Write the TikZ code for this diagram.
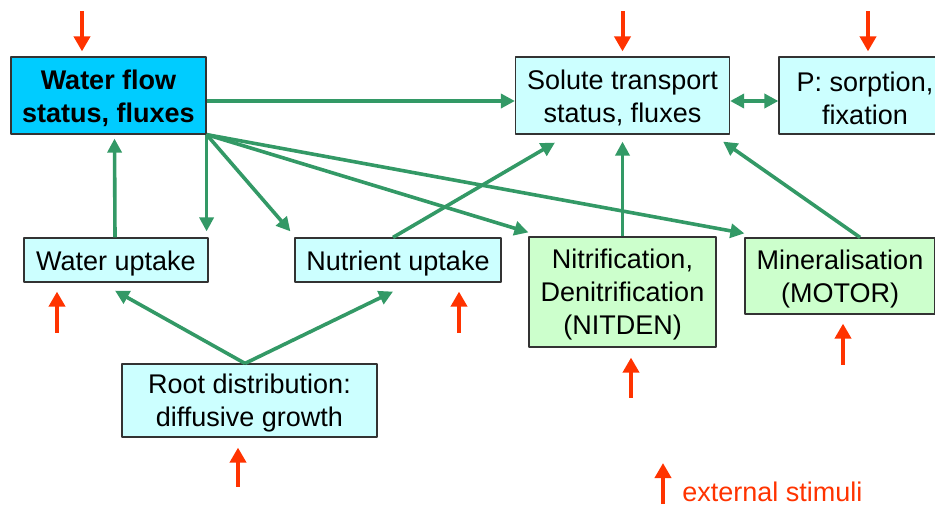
\documentclass[tikz,border=0pt]{standalone}
\usepackage{fontspec}
\setmainfont{Liberation Sans}
\usetikzlibrary{arrows.meta}
\definecolor{flowblue}{HTML}{00CCFF}
\definecolor{paleblue}{HTML}{CCFFFF}
\definecolor{palegreen}{HTML}{CCFFCC}
\definecolor{linkgreen}{HTML}{339966}
\definecolor{stimred}{HTML}{FF3300}
\newcommand{\topgap}{\rule{0pt}{12.5pt}}
\begin{document}
\begin{tikzpicture}[x=0.5pt,y=-0.5pt, line join=round]
	\tikzset{box/.style={draw=black!80, line width=0.6pt, inner sep=0pt, align=center, font=\fontsize{13.5}{16.5}\selectfont},
		link/.style={-{Triangle[length=7pt,width=7pt]}, draw=linkgreen, line width=1.8pt},
		stim/.style={-{Triangle[length=7.5pt,width=8pt]}, draw=stimred, line width=2pt}}
	\useasboundingbox (0,0) rectangle (935,504);
	% boxes
	\node[box, fill=flowblue, minimum width=97.5pt, minimum height=38.5pt, font=\fontsize{13.5}{16.5}\selectfont\bfseries] (wflow) at (108.5,95.5) {\topgap Water flow\\status, fluxes};
	\node[box, fill=paleblue, minimum width=107pt, minimum height=38.5pt] (solute) at (622.5,95.5) {\topgap Solute transport\\status, fluxes};
	\node[box, fill=paleblue, minimum width=86pt, minimum height=38.5pt] (psorp) at (865,95.5) {\topgap P: sorption,\\fixation};
	\node[box, fill=paleblue, minimum width=92pt, minimum height=22pt] (wup) at (116,260) {\rule{0pt}{13.5pt}Water uptake};
	\node[box, fill=paleblue, minimum width=103pt, minimum height=22pt] (nup) at (398,260) {\rule{0pt}{13.5pt}Nutrient uptake};
	\node[box, fill=palegreen, minimum width=93.5pt, minimum height=55pt] (nitden) at (622.5,292) {\topgap Nitrification,\\Denitrification\\(NITDEN)};
	\node[box, fill=palegreen, minimum width=95pt, minimum height=38pt] (miner) at (840,276) {\topgap Mineralisation\\(MOTOR)};
	\node[box, fill=paleblue, minimum width=127.5pt, minimum height=36.5pt] (root) at (249.5,400.5) {\topgap Root distribution:\\diffusive growth};
	% flows
	\draw[link] ([yshift=-2.75pt]wflow.east) -- ([yshift=-2.75pt]solute.west);
	\draw[link, {Triangle[length=7pt,width=7pt]}-{Triangle[length=7pt,width=7pt]}] ([yshift=-2.75pt]solute.east) -- ([yshift=-2.75pt]psorp.west);
	\draw[link] (wflow.south east) -- ([yshift=3pt]wflow.south east |- wup.north);
	\draw[link] (wflow.south east) -- ([xshift=-2pt,yshift=3pt]nup.north west);
	\draw[link] (wflow.south east) -- ([yshift=2pt]nitden.north west);
	\draw[link] (wflow.south east) -- ([yshift=2pt]miner.north west);
	\draw[link] ([xshift=-0.5pt]wup.north) -- ([xshift=3pt,yshift=-2pt]wflow.south);
	\draw[link] ([xshift=-2.5pt]nup.north) -- ([xshift=-33.75pt,yshift=-4pt]solute.south);
	\draw[link] (nitden.north) -- ([yshift=-3.5pt]solute.south);
	\draw[link] ([xshift=10pt]miner.north) -- ([xshift=-3.5pt,yshift=-3.5pt]solute.south east);
	\draw[link] ([xshift=-2.25pt]root.north) -- ([xshift=-0.5pt,yshift=-4pt]wup.south);
	\draw[link] ([xshift=-2.25pt]root.north) -- ([xshift=-2.5pt,yshift=-4.5pt]nup.south);
	% external stimuli
	\draw[stim] ([xshift=-13.25pt,yshift=22.5pt]wflow.north) -- ++(0pt,-20pt);
	\draw[stim] ([yshift=22.5pt]solute.north) -- ++(0pt,-20pt);
	\draw[stim] ([xshift=1.5pt,yshift=22.5pt]psorp.north) -- ++(0pt,-20pt);
	\draw[stim] ([xshift=-29.5pt,yshift=-25pt]wup.south) -- ++(0pt,20.5pt);
	\draw[stim] ([xshift=30.5pt,yshift=-25pt]nup.south) -- ++(0pt,20.5pt);
	\draw[stim] ([xshift=4.25pt,yshift=-25pt]nitden.south) -- ++(0pt,20pt);
	\draw[stim] ([xshift=1.5pt,yshift=-25pt]miner.south) -- ++(0pt,20.5pt);
	\draw[stim] ([xshift=-5.75pt,yshift=-24.5pt]root.south) -- ++(0pt,19.5pt);
	\node[anchor=base west, inner sep=0pt, text=stimred, font=\fontsize{13.5}{16.5}\selectfont] (legend) at (682,501) {external stimuli};
	\draw[stim] ([xshift=-9.5pt,yshift=-1.5pt]legend.base west) -- ++(0pt,20.5pt);
\end{tikzpicture}
\end{document}
